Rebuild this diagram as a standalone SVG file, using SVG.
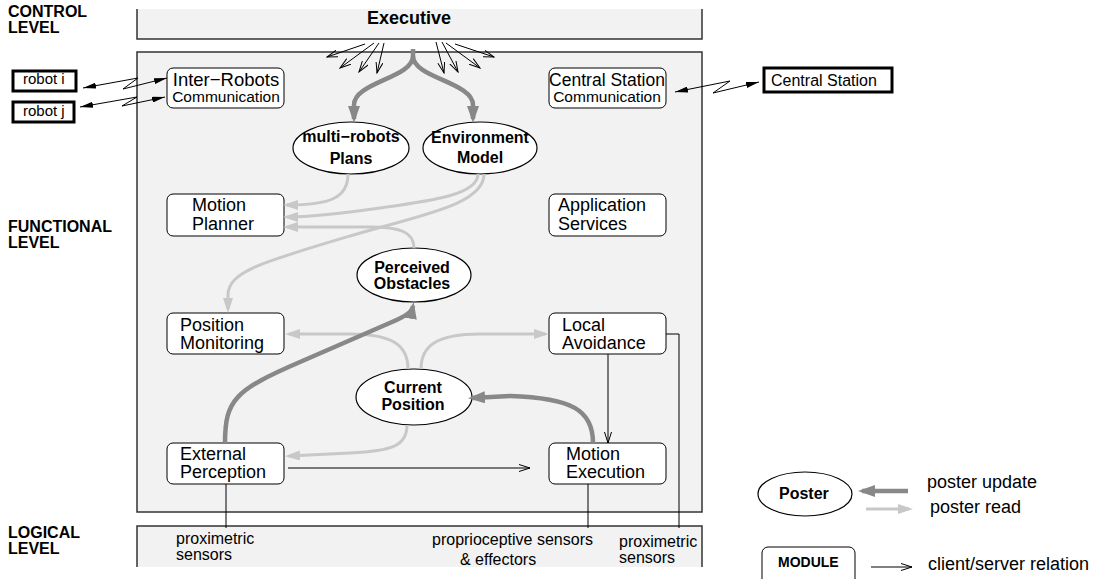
<svg xmlns="http://www.w3.org/2000/svg" width="1098" height="579" viewBox="0 0 1098 579">
<defs>
<style>
text{font-family:"Liberation Sans",Arial,sans-serif;fill:#000}
.lvl{font-size:16px;font-weight:bold}
.nt{font-size:18px}
.et{font-size:16px;font-weight:bold;text-anchor:middle}
.st{font-size:16px}
.panel{fill:#f2f2f2}
.pedge{fill:none;stroke:#333;stroke-width:1.5}
.node{fill:#fff;stroke:#000;stroke-width:1}
.ell{fill:#fff;stroke:#000;stroke-width:1.2}
.ext{fill:#fff;stroke:#000;stroke-width:3}
.upd{fill:none;stroke:#888;stroke-width:4.5;marker-end:url(#mUpd)}
.rd{fill:none;stroke:#c8c8c8;stroke-width:3;marker-end:url(#mRd)}
.cs{fill:none;stroke:#000;stroke-width:1;marker-end:url(#mOpen)}
.ln{fill:none;stroke:#000;stroke-width:1}
.zz{fill:none;stroke:#000;stroke-width:1;marker-start:url(#mBlk);marker-end:url(#mBlk)}
</style>
<marker id="mUpd" markerUnits="userSpaceOnUse" markerWidth="17" markerHeight="12" refX="13" refY="6" orient="auto"><path d="M0,0 L17,6 L0,12 z" fill="#888"/></marker>
<marker id="mRd" markerUnits="userSpaceOnUse" markerWidth="15" markerHeight="10" refX="11" refY="5" orient="auto"><path d="M0,0 L15,5 L0,10 z" fill="#c8c8c8"/></marker>
<marker id="mOpen" markerUnits="userSpaceOnUse" markerWidth="12" markerHeight="8" refX="11" refY="4" orient="auto"><path d="M0,0.5 L11,4 L0,7.5" fill="none" stroke="#000" stroke-width="1"/></marker>
<marker id="mBlk" markerUnits="userSpaceOnUse" markerWidth="13" markerHeight="6" refX="13" refY="3" orient="auto-start-reverse"><path d="M0,0 L13,3 L0,6 z" fill="#000"/></marker>
</defs>

<g id="levels">
<text class="lvl" x="8" y="17">CONTROL</text>
<text class="lvl" x="8" y="33">LEVEL</text>
<text class="lvl" x="8" y="232">FUNCTIONAL</text>
<text class="lvl" x="8" y="248">LEVEL</text>
<text class="lvl" x="8" y="538">LOGICAL</text>
<text class="lvl" x="8" y="554">LEVEL</text>
</g>

<g id="executive">
<rect class="panel" x="137" y="9" width="565" height="30"/>
<path class="pedge" d="M137,9 L137,39 L702,39 L702,9"/>
<text x="409" y="24" style="font-size:18px;font-weight:bold" text-anchor="middle">Executive</text>
</g>

<g id="functional-level">
<rect class="panel" x="137" y="52" width="565" height="460" stroke="#333" stroke-width="1.5"/>
</g>

<g id="logical-level">
<rect class="panel" x="137" y="526" width="565" height="41"/>
<path class="pedge" d="M137,567 L137,526 L702,526 L702,567"/>
<text class="st" x="176" y="544">proximetric</text>
<text class="st" x="176" y="560">sensors</text>
<text class="st" x="432" y="545">proprioceptive sensors</text>
<text class="st" x="460" y="565">&amp; effectors</text>
<text class="st" x="619" y="547">proximetric</text>
<text class="st" x="619" y="563">sensors</text>
</g>

<g id="robot-i"><rect class="ext" x="13" y="71" width="63" height="20"/><text class="st" x="23" y="84" style="font-size:15px">robot i</text></g>
<g id="robot-j"><rect class="ext" x="13" y="102" width="61" height="20"/><text class="st" x="23" y="116" style="font-size:15px">robot j</text></g>
<g id="central-station"><rect class="ext" x="764" y="68" width="128" height="24"/><text class="st" x="771" y="86">Central Station</text></g>

<g id="inter-robots"><rect class="node" x="167" y="68" width="117" height="40" rx="6"/>
<text x="226" y="86" text-anchor="middle" style="font-size:18.5px">Inter−Robots</text>
<text x="226" y="102" text-anchor="middle" style="font-size:15.5px">Communication</text></g>

<g id="cs-comm"><rect class="node" x="549" y="68" width="117" height="40" rx="6"/>
<text x="607" y="86" text-anchor="middle" style="font-size:17.5px">Central Station</text>
<text x="607" y="102" text-anchor="middle" style="font-size:15.5px">Communication</text></g>

<g id="motion-planner"><rect class="node" x="167" y="194" width="117" height="42" rx="6"/>
<text class="nt" x="192" y="211">Motion</text><text class="nt" x="192" y="230">Planner</text></g>

<g id="application-services"><rect class="node" x="549" y="194" width="117" height="42" rx="6"/>
<text class="nt" x="558" y="211">Application</text><text class="nt" x="558" y="230">Services</text></g>

<g id="position-monitoring"><rect class="node" x="167" y="313" width="117" height="41" rx="6"/>
<text class="nt" x="180" y="331">Position</text><text class="nt" x="180" y="349">Monitoring</text></g>

<g id="local-avoidance"><rect class="node" x="549" y="313" width="117" height="41" rx="6"/>
<text class="nt" x="562" y="331">Local</text><text class="nt" x="562" y="349">Avoidance</text></g>

<g id="external-perception"><rect class="node" x="167" y="443" width="117" height="41" rx="6"/>
<text class="nt" x="180" y="460">External</text><text class="nt" x="180" y="478">Perception</text></g>

<g id="motion-execution"><rect class="node" x="549" y="443" width="117" height="41" rx="6"/>
<text class="nt" x="566" y="460">Motion</text><text class="nt" x="566" y="478">Execution</text></g>

<g id="multi-robots-plans"><ellipse class="ell" cx="351" cy="148" rx="58" ry="26"/>
<text class="et" x="351" y="142">multi−robots</text><text class="et" x="351" y="164">Plans</text></g>

<g id="environment-model"><ellipse class="ell" cx="480" cy="148" rx="57" ry="26"/>
<text class="et" x="480" y="143">Environment</text><text class="et" x="480" y="163">Model</text></g>

<g id="perceived-obstacles"><ellipse class="ell" cx="414" cy="275" rx="57" ry="27"/>
<text class="et" x="412" y="273">Perceived</text><text class="et" x="412" y="289">Obstacles</text></g>

<g id="current-position"><ellipse class="ell" cx="414" cy="397" rx="58" ry="28"/>
<text class="et" x="413" y="393">Current</text><text class="et" x="413" y="410">Position</text></g>

<g id="legend">
<ellipse class="ell" cx="805" cy="494" rx="47" ry="22"/>
<text x="779" y="499" style="font-size:16px;font-weight:bold">Poster</text>
<path d="M908,491 L862,491" fill="none" stroke="#888" stroke-width="4.5" marker-end="url(#mUpd)"/>
<path d="M866,509 L909,509" fill="none" stroke="#c8c8c8" stroke-width="3" marker-end="url(#mRd)"/>
<text x="927" y="488" style="font-size:18px">poster update</text>
<text x="930" y="513" style="font-size:18px">poster read</text>
<rect class="node" x="762" y="547" width="93" height="45" rx="6"/>
<text x="778" y="567" style="font-size:14px;font-weight:bold">MODULE</text>
<path class="cs" d="M871,567 L912,567"/>
<text x="928" y="570" style="font-size:18px">client/server relation</text>
</g>

<g id="connectors">
<path class="cs" d="M365,44 L327,57"/>
<path class="cs" d="M374,43 L340,68"/>
<path class="cs" d="M379,43 L359,72"/>
<path class="cs" d="M384,43 L377,73"/>
<path class="cs" d="M436,42 L444,73"/>
<path class="cs" d="M442,42 L458,72"/>
<path class="cs" d="M446,43 L480,68"/>
<path class="cs" d="M455,44 L494,57"/>
<path class="upd" d="M413,49 L413,56 C413,78 354,82 354,105 L354,119"/>
<path class="upd" d="M413,56 C413,78 473,82 473,105 L473,119"/>
<polyline class="zz" points="83,88 138,78 123,89 167,78"/>
<polyline class="zz" points="80,107 137,97 122,106 165,97"/>
<polyline class="zz" points="675,92 730,81 713,93 759,82"/>
<path class="rd" d="M348,174 C348,198 330,205 287,205"/>
<path class="rd" d="M478,174 C478,195 430,201 380,208 C330,215 305,217 287,217"/>
<path class="rd" d="M484,174 C484,205 420,215 350,236 C262,262 228,272 228,295 L228,309"/>
<path class="rd" d="M414,248 C414,232 400,227 370,227 L287,227"/>
<path class="rd" d="M408,369 C408,345 392,334 350,334 L289,334"/>
<path class="rd" d="M421,369 C421,345 438,334 480,334 L545,334"/>
<path class="rd" d="M407,425 C407,446 392,451 350,453 L289,456"/>
<path class="upd" d="M225,443 C225,400 235,390 300,362 L392,322 C406,316 412,312 413,306"/>
<path class="upd" d="M593,443 C593,410 572,398 510,396 L472,398"/>
<path class="cs" d="M608,354 L608,443"/>
<path class="cs" d="M288,468 L530,468"/>
<path class="ln" d="M226,484 L226,528"/>
<path class="ln" d="M588,484 L588,528"/>
<path class="ln" d="M666,334 L679,334 L679,528"/>
</g>
</svg>
